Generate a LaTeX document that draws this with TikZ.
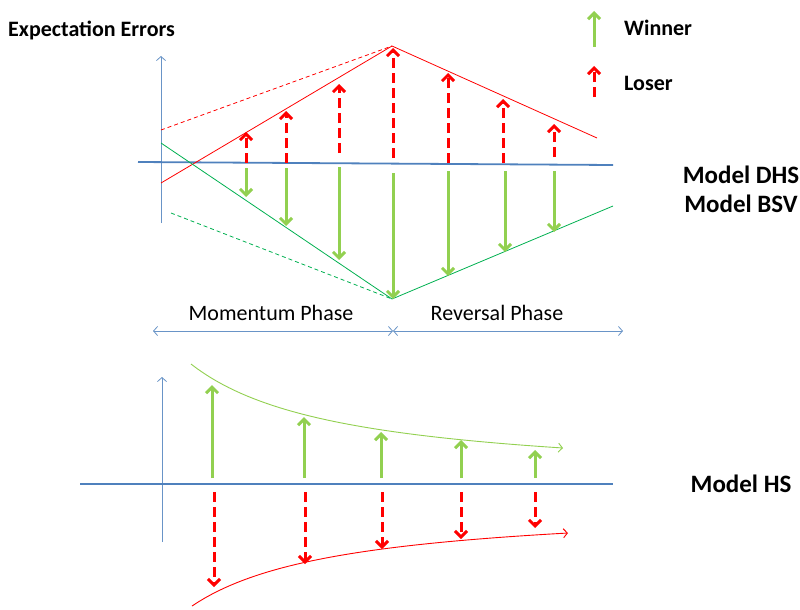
\documentclass[tikz,border=0pt]{standalone}
\usepackage{fontspec}
\setmainfont{Carlito}
\usetikzlibrary{arrows.meta}

\definecolor{axisblue}{HTML}{4F81BD}
\definecolor{winnergreen}{HTML}{92D050}
\definecolor{linegreen}{HTML}{00B050}

\tikzstyle{winner} = [
    winnergreen,
    line width=3pt,
    -{Straight Barb[length=6pt,width=12pt]}
]
\tikzstyle{loser} = [
    red,
    line width=3pt,
    dash pattern=on 10pt off 5pt,
    -{Straight Barb[length=6pt,width=12pt]}
]
\tikzstyle{axis} = [axisblue!85, line width=0.8pt, -{Straight Barb[length=4pt,width=9pt]}]
\tikzstyle{zeroline} = [axisblue, line width=1.8pt]
\tikzstyle{phase} = [axisblue!85, line width=0.8pt, {Straight Barb[length=4pt,width=9pt]}-{Straight Barb[length=4pt,width=9pt]}]
\tikzstyle{headtext} = [font=\fontsize{22}{26}\selectfont\bfseries, inner sep=0pt]
\tikzstyle{modeltext} = [font=\fontsize{25}{30}\selectfont\bfseries, inner sep=0pt]
\tikzstyle{phasetext} = [font=\fontsize{22}{26}\selectfont, inner sep=0pt]

\begin{document}
\begin{tikzpicture}[x=1pt, y=-1pt]
\useasboundingbox (0,0) rectangle (800,610);

% labels
\node (title) [headtext, anchor=west] at (8,30) {Expectation Errors};
\node (winner) [headtext, anchor=west] at (624,28) {Winner};
\node (loser) [headtext, anchor=west] at (624,83) {Loser};
\node (dhs) [modeltext] at (741,175) {Model DHS};
\node (bsv) [modeltext] at (741,204) {Model BSV};
\node (hs) [modeltext] at (741,484) {Model HS};

% legend
\draw [winner] (594,47) -- (594,11);
\draw [loser] (594,97) -- (594,66);

% top panel
\coordinate (peak) at (392,46);
\coordinate (trough) at (392,299);
\draw [axis] (161,223) -- (161,56);
\draw [zeroline] (138,162) -- (613,165);

\draw [red, line width=0.8pt, dash pattern=on 4pt off 3pt] (161,130) -- (peak);
\draw [red, line width=0.8pt] (161,183) -- (peak) -- (597,138);
\draw [linegreen, line width=0.8pt] (161,143) -- (trough) -- (613,206);
\draw [linegreen, line width=0.8pt, dash pattern=on 4pt off 3pt] (171,213) -- (trough);

\foreach \x/\a/\b in {246/163/132, 286/163/111, 339/153/84, 393/158/48,
                      448/163/73, 503/163/99, 554/157/124}
    \draw [loser] (\x,\a) -- (\x,\b);

\foreach \x/\a/\b in {246/168/197, 286/168/226, 339/167/260, 393/173/299,
                      448/171/276, 505/171/252, 554/171/232}
    \draw [winner] (\x,\a) -- (\x,\b);

% phases
\coordinate (mid) at (393,331);
\draw [phase] (153,331) -- (mid);
\draw [phase] (mid) -- (623,331);
\node (momentum) [phasetext] at (271,313) {Momentum Phase};
\node (reversal) [phasetext] at (497,313) {Reversal Phase};

% bottom panel
\draw [axis] (162,542) -- (162,377);
\draw [zeroline] (80,484) -- (613,484);

\draw [winnergreen, line width=0.9pt, -{Straight Barb[length=4pt,width=9pt]}]
    plot [domain=191:563, samples=60] (\x,{482.1-178.31/((\x-40)/100)});
\draw [red, line width=0.9pt, -{Straight Barb[length=4pt,width=9pt]}]
    plot [domain=192:568, samples=60] (\x,{503.5+155.82/((\x-40)/100)});

\foreach \x/\b in {212/385, 304/417, 381/432, 461/440, 535/450}
    \draw [winner] (\x,478) -- (\x,\b);

\foreach \x/\b in {214/587, 305/564, 382/549, 461/539, 535/528}
    \draw [loser] (\x,492) -- (\x,\b);

\end{tikzpicture}
\end{document}
